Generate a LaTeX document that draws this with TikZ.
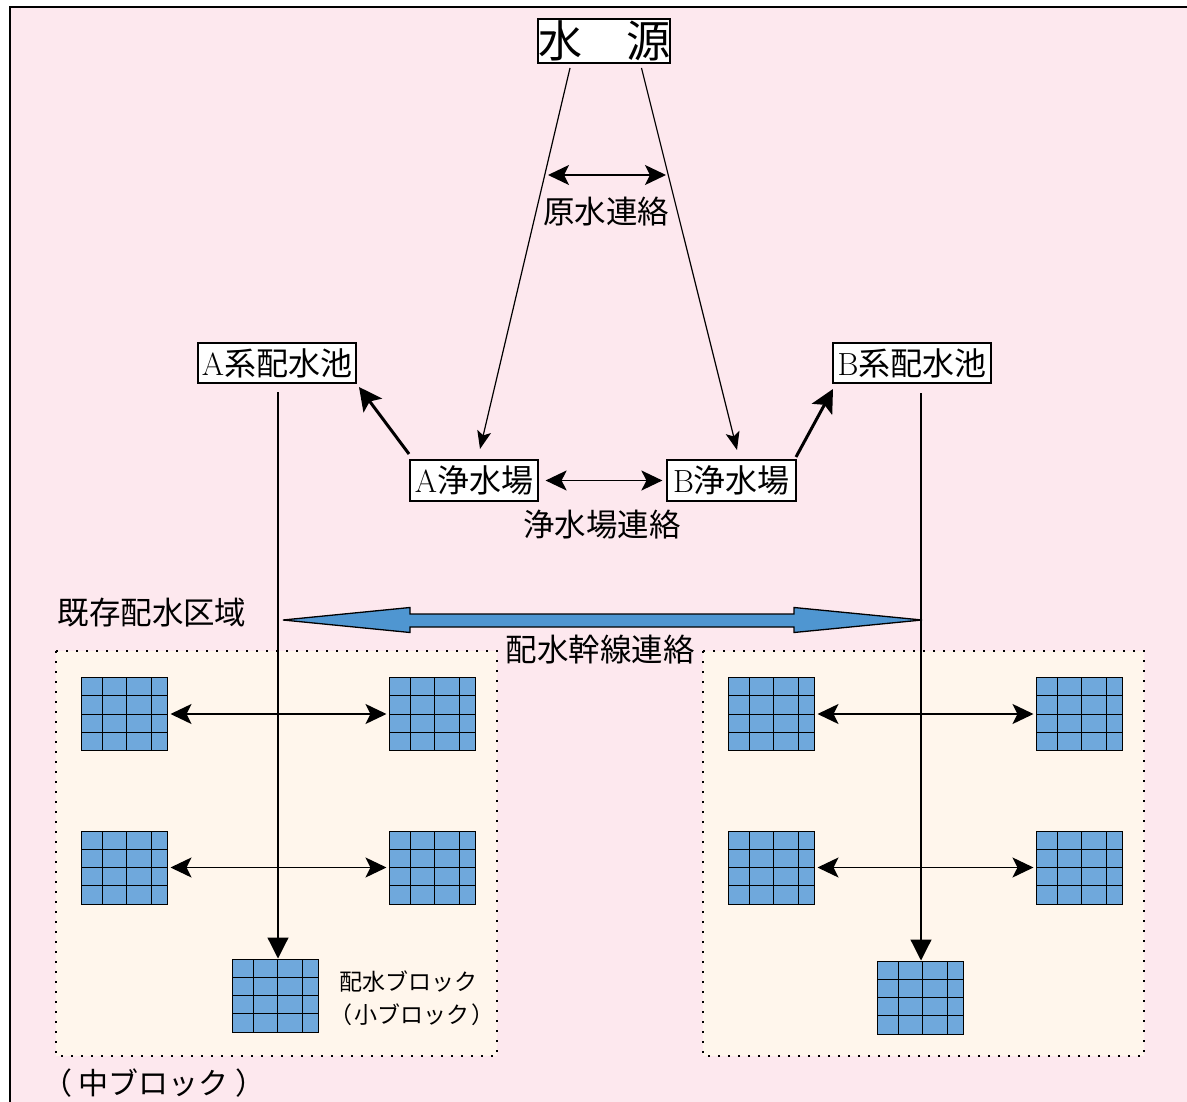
\documentclass[tikz,border=0pt]{standalone}
\usepackage{fontspec}
\newfontfamily\cjk{Noto Sans CJK JP}
\usetikzlibrary{arrows.meta,calc}
\definecolor{bgpink}{HTML}{FDE8EE}
\definecolor{cream}{HTML}{FFF6EC}
\definecolor{gridblue}{HTML}{6FA8DC}
\definecolor{arrblue}{HTML}{4F96D1}
\begin{document}
\begin{tikzpicture}[x=1pt,y=-1pt,
  box/.style={draw, fill=white, line width=1.2pt, inner sep=0pt, font=\fontsize{32}{32}\selectfont},
  lbl/.style={inner sep=0pt, font=\cjk\fontsize{31.5}{31.5}\selectfont},
  thinarr/.style={line width=1.2pt, -{Stealth[length=18pt,width=14pt,inset=4pt]}},
  dblarr/.style={line width=1.4pt, {Stealth[length=21pt,width=20pt,inset=5pt]}-{Stealth[length=21pt,width=20pt,inset=5pt]}},
  thickarr/.style={line width=3pt, -{Stealth[length=23pt,width=23pt,inset=5pt]}},
  downarr/.style={line width=1.2pt, -{Triangle[length=21pt,width=21pt]}},
  region/.style={fill=cream, draw, line width=1.4pt, dash pattern=on 2pt off 8pt},
  gridb/.style={draw, fill=gridblue, line width=1pt, minimum width=86pt, minimum height=73pt, inner sep=0pt,
    path picture={
      \foreach \f in {0.248,0.53,0.814}
        \draw[line width=1pt] ($(path picture bounding box.north west)!\f!(path picture bounding box.north east)$) -- ($(path picture bounding box.south west)!\f!(path picture bounding box.south east)$);
      \foreach \f in {0.25,0.5,0.75}
        \draw[line width=1pt] ($(path picture bounding box.north west)!\f!(path picture bounding box.south west)$) -- ($(path picture bounding box.north east)!\f!(path picture bounding box.south east)$);
    }}
]
\useasboundingbox (0,0) rectangle (1187,1102);
% background frame
\fill[bgpink] (10,7) rectangle (1187,1102);
\draw[line width=1.5pt] (1187,7) -- (10,7) -- (10,1102);

% dotted regions
\draw[region] (56,651) rectangle (497,1056);
\draw[region] (703,651) rectangle (1144,1056);

% main boxes
\node[box, font=\cjk\fontsize{44}{44}\selectfont, minimum width=130pt, minimum height=44pt] (src) at (604,41) {水　源};
\node[box, minimum width=158pt, minimum height=40pt] (poolA) at (277,363) {A{\cjk 系配水池}};
\node[box, minimum width=158pt, minimum height=40pt] (poolB) at (912,363) {B{\cjk 系配水池}};
\node[box, minimum width=128pt, minimum height=41pt] (plantA) at (474,480.5) {A{\cjk 浄水場}};
\node[box, minimum width=129pt, minimum height=41pt] (plantB) at (731.5,480.5) {B{\cjk 浄水場}};

% labels
\node[lbl] (lraw) at (606,212) {原水連絡};
\node[lbl] (lplant) at (602,525) {浄水場連絡};
\node[lbl] (lexist) at (152,613) {既存配水区域};
\node[lbl] (lmain) at (600,650) {配水幹線連絡};
\node[lbl, font=\cjk\fontsize{23}{23}\selectfont] (lblk1) at (408,982) {配水ブロック};
\node[lbl, font=\cjk\fontsize{23}{23}\selectfont] (lblk2) at (412,1015) {（\hspace{2pt}小ブロック\hspace{2pt}）};
\node[lbl, font=\cjk\fontsize{30}{30}\selectfont] (lmid) at (154,1083) {（\hspace{7pt}中ブロック\hspace{7pt}）};

% grid blocks
\node[gridb] (a1) at (124,714) {};
\node[gridb] (a2) at (432,714) {};
\node[gridb] (a3) at (124,867.5) {};
\node[gridb] (a4) at (432,867.5) {};
\node[gridb] (a5) at (275,995.5) {};
\node[gridb] (b1) at (771,714) {};
\node[gridb] (b2) at (1079,714) {};
\node[gridb] (b3) at (771,867.5) {};
\node[gridb] (b4) at (1079,867.5) {};
\node[gridb] (b5) at (920,997.5) {};

% source lines
\coordinate (srcL) at (570,68);
\coordinate (srcR) at (641.5,68);
\coordinate (tipA) at (480,449);
\coordinate (tipB) at (737,450);
\draw[thinarr] (srcL) -- (tipA);
\draw[thinarr] (srcR) -- (tipB);
\coordinate (rawL) at (548,175);
\coordinate (rawR) at (666,175);
\draw[dblarr] (rawL) -- (rawR);

% plant link
\draw[dblarr] ($(plantA.east)+(7,0)$) -- ($(plantB.west)+(-4,0)$);

% plant to pools
\coordinate (pA0) at (409,454);
\coordinate (pA1) at (359,387);
\coordinate (pB0) at (796,457);
\coordinate (pB1) at (833,389);
\draw[thickarr] (pA0) -- (pA1);
\draw[thickarr] (pB0) -- (pB1);

% vertical trunk lines
\coordinate (vA) at (278,392);
\coordinate (vB) at (921,393);
\draw[downarr] (vA) -- (vA |- a5.north);
\draw[downarr] (vB) -- (vB |- b5.north);

% big double arrow
\draw[fill=arrblue, line width=1.3pt, line join=miter]
  (283,620) -- (410,607.5) -- (410,614) -- (794,614) -- (794,607.5) -- (922,620)
  -- (794,632.5) -- (794,627) -- (410,627) -- (410,632.5) -- cycle;

% block links
\draw[dblarr] ($(a1.east)+(3,0)$) -- ($(a2.west)+(-2,0)$);
\draw[dblarr] ($(a3.east)+(3,0)$) -- ($(a4.west)+(-2,0)$);
\draw[dblarr] ($(b1.east)+(3,0)$) -- ($(b2.west)+(-2,0)$);
\draw[dblarr] ($(b3.east)+(3,0)$) -- ($(b4.west)+(-2,0)$);
\end{tikzpicture}
\end{document}
